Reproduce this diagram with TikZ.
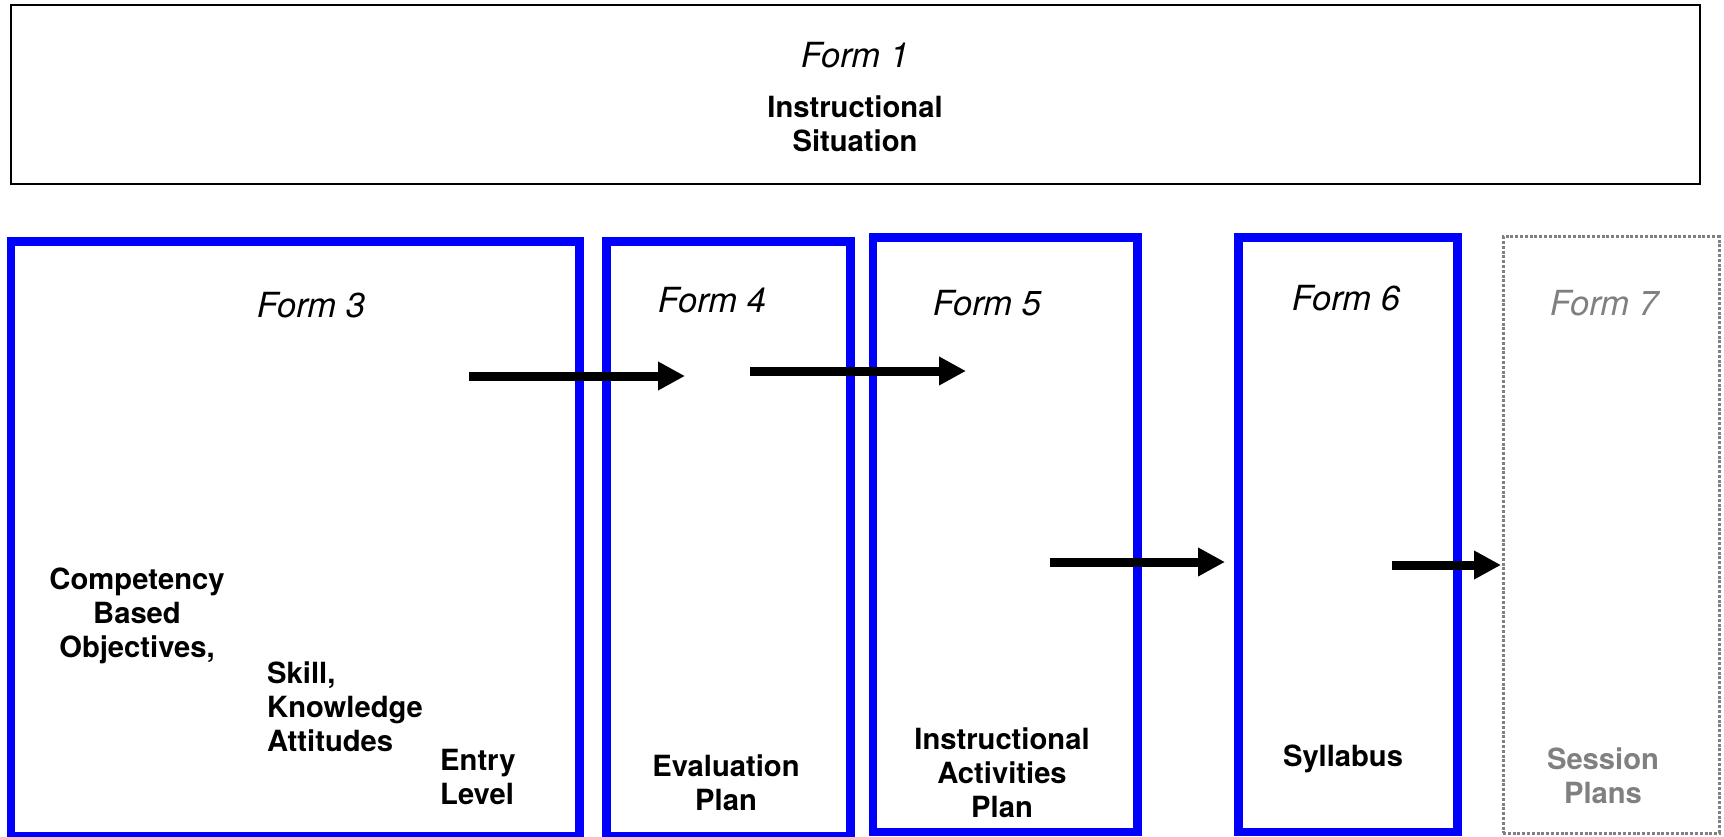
\documentclass[tikz,border=0pt]{standalone}
\usepackage{fontspec}
\setmainfont{TeX Gyre Heros}
\usetikzlibrary{arrows.meta}
\definecolor{formblue}{RGB}{0,0,255}
\definecolor{faded}{RGB}{128,128,128}
\tikzset{
  framebox/.style={draw=black, line width=2pt, inner sep=0pt, outer sep=0pt},
  formbox/.style={draw=formblue, line width=8.5pt, inner sep=0pt, outer sep=0pt},
  futurebox/.style={draw=faded, line width=3pt, dash pattern=on 3pt off 1.8pt, inner sep=0pt, outer sep=0pt},
  formtitle/.style={font=\fontsize{34.6}{40}\selectfont\itshape, inner sep=0pt},
  content/.style={font=\fontsize{29.2}{34}\selectfont\bfseries, inner sep=0pt, align=center},
  flow/.style={line width=9pt, -{Triangle[length=27pt, width=27pt]}}
}
\begin{document}
\begin{tikzpicture}[x=1pt, y=-1pt]
\useasboundingbox (0,0) rectangle (1724,837);

% frames
\node[framebox, minimum width=1689pt, minimum height=178.5pt] (form1) at (855.5,94.75) {};
\node[formbox, minimum width=568.5pt, minimum height=594.5pt] (form3) at (295.25,538.75) {};
\node[formbox, minimum width=244pt, minimum height=594.5pt] (form4) at (728.5,538.75) {};
\node[formbox, minimum width=264.5pt, minimum height=594.5pt] (form5) at (1005.25,534.75) {};
\node[formbox, minimum width=219pt, minimum height=594.5pt] (form6) at (1348,534.75) {};
\node[futurebox, minimum width=216pt, minimum height=596pt] (form7) at (1611,535) {};

% titles
\node[formtitle] (t1) at (855,55) {Form 1};
\node[content] (situation) at (855,124) {Instructional\\Situation};
\node[formtitle] (t3) at (311,305) {Form 3};
\node[formtitle] (t4) at (712,300) {Form 4};
\node[formtitle] (t5) at (987,303) {Form 5};
\node[formtitle] (t6) at (1346,298) {Form 6};
\node[formtitle, text=faded] (t7) at (1604,303) {Form 7};

% contents
\node[content] (cbo) at (137,616) {Competency\\Based\\Objectives,};
\node[content, align=left, anchor=west] (ska) at (267,707) {Skill,\\Knowledge\\Attitudes};
\node[content, align=left, anchor=west] (entry) at (440,776.5) {Entry\\Level};
\node[content] (eval) at (726,782.5) {Evaluation\\Plan};
\node[content] (iap) at (1002,773) {Instructional\\Activities\\Plan};
\node[content] (syl) at (1343,759) {Syllabus};
\node[content, text=faded] (sess) at (1603,776) {Session\\Plans};

% flow arrows
\coordinate (a1s) at (469,376);
\coordinate (a1e) at (685,376);
\coordinate (a2s) at (750,371);
\coordinate (a2e) at (966,371);
\coordinate (a3s) at (1050,562);
\coordinate (a3e) at (1225,562);
\coordinate (a4s) at (1392,565);
\coordinate (a4e) at (1501,565);
\draw[flow] (a1s) -- (a1e);
\draw[flow] (a2s) -- (a2e);
\draw[flow] (a3s) -- (a3e);
\draw[flow] (a4s) -- (a4e);
\end{tikzpicture}
\end{document}
